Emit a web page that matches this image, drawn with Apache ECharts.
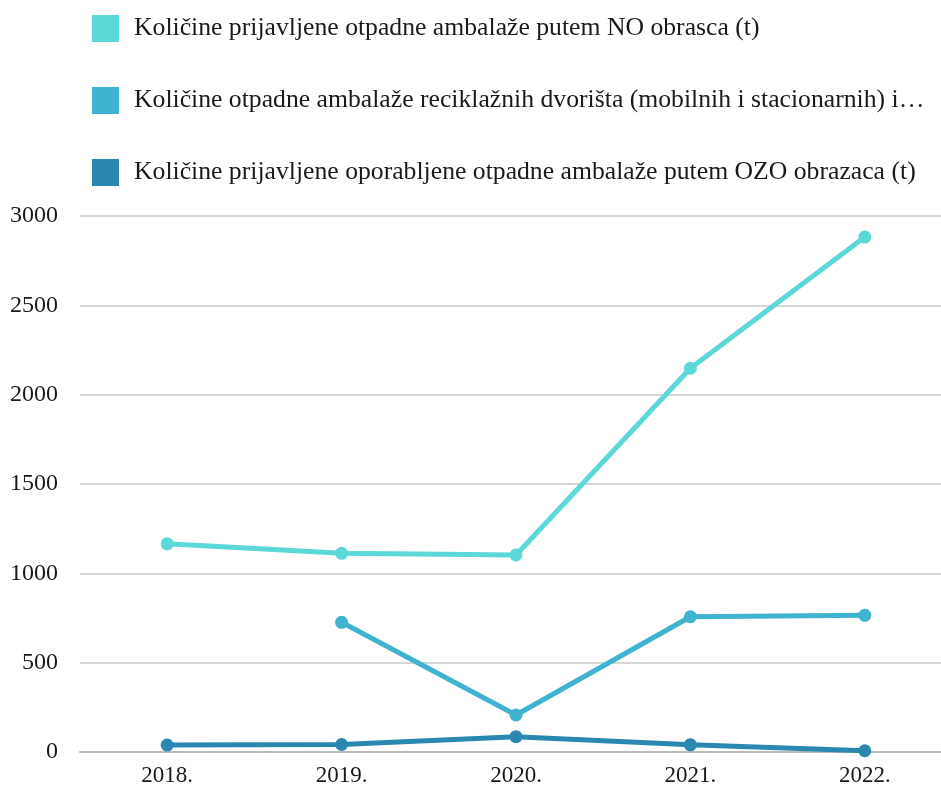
<!DOCTYPE html>
<html>
<head>
<meta charset="utf-8">
<script src="https://cdn.jsdelivr.net/npm/echarts@6/dist/echarts.min.js"></script>
<style>html,body{margin:0;padding:0;background:#fff}#c{width:941px;height:787px}</style>
</head>
<body>
<div id="c"></div>
<script>
const categories = ['2018.', '2019.', '2020.', '2021.', '2022.'];
const seriesNames = [
  'Količine prijavljene otpadne ambalaže putem NO obrasca (t)',
  'Količine otpadne ambalaže reciklažnih dvorišta (mobilnih i stacionarnih) i mobilnih jedinica (t)',
  'Količine prijavljene oporabljene otpadne ambalaže putem OZO obrazaca (t)'
];
const noValues = [1165, 1112, 1103, 2148, 2882];
const reciklValues = [null, 726, 207, 757, 765];
const ozoValues = [39, 42, 86, 40, 7];
const colors = ['#5cd8d8', '#3fb3cf', '#2a88b0'];
const yTicks = { min: 0, max: 3000, interval: 500 };

const font = 'Liberation Serif';
const chart = echarts.init(document.getElementById('c'));
const mk = (name, data, color) => ({
  name, type: 'line', data, color,
  symbol: 'circle', symbolSize: 13,
  lineStyle: { width: 5, color },
  itemStyle: { color },
  connectNulls: false
});
chart.setOption({
  animation: false,
  textStyle: { fontFamily: font },
  legend: {
    orient: 'vertical', left: 87, top: 10,
    itemWidth: 27, itemHeight: 27, itemGap: 45, icon: 'rect',
    textStyle: { fontFamily: font, fontSize: 25.7, color: '#1a1a1a', width: 850, overflow: 'truncate', ellipsis: '…', padding: [0, 0, 0, 10] }
  },
  grid: { left: 80, width: 872, top: 216, bottom: 35, outerBoundsMode: 'none', containLabel: false },
  xAxis: {
    type: 'category', data: categories, boundaryGap: true,
    axisLine: { lineStyle: { color: '#bbb', width: 2 } },
    axisTick: { show: false },
    axisLabel: { fontFamily: font, fontSize: 23, color: '#1a1a1a', margin: 12 }
  },
  yAxis: {
    type: 'value', min: yTicks.min, max: yTicks.max, interval: yTicks.interval,
    axisLine: { show: false }, axisTick: { show: false },
    splitLine: { lineStyle: { color: '#d6d6d6', width: 2 } },
    axisLabel: { fontFamily: font, fontSize: 24, color: '#1a1a1a', margin: 22, formatter: v => String(v) }
  },
  series: [
    mk(seriesNames[0], noValues, colors[0]),
    mk(seriesNames[1], reciklValues, colors[1]),
    mk(seriesNames[2], ozoValues, colors[2])
  ]
});
</script>
</body>
</html>
